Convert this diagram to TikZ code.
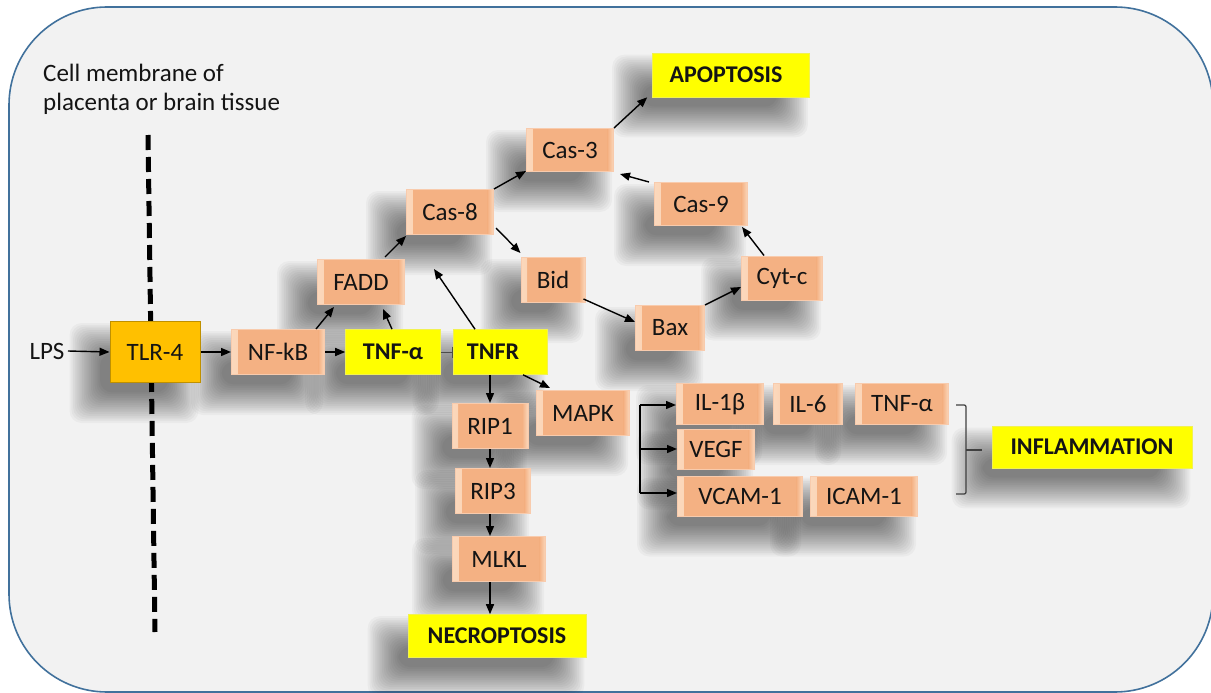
\documentclass[tikz,border=0pt]{standalone}
\usepackage{fontspec}
\setmainfont{Carlito}
\usetikzlibrary{arrows.meta}
\definecolor{salmon}{HTML}{F4B183}
\definecolor{salmonlt}{HTML}{FBD8BC}
\definecolor{salmonbd}{HTML}{F8CBAD}
\definecolor{ylw}{HTML}{FFFF00}
\definecolor{ylwbd}{HTML}{F2F250}
\definecolor{tlrc}{HTML}{FFC000}
\definecolor{tlrbd}{HTML}{BF9000}
\definecolor{bgfill}{HTML}{F2F2F2}
\definecolor{framec}{HTML}{41719C}
\definecolor{txt}{HTML}{141414}
\pgfdeclarelayer{bglayer}
\pgfdeclarelayer{shadowlayer}
\pgfsetlayers{bglayer,shadowlayer,main}
\newcommand\softshadow[1]{%
  \foreach \k in {0,...,17}{%
    \fill[black, opacity=0.03, rounded corners=12pt]
      ([shift={({-40pt+\k*1.8pt},{-40pt+\k*1.8pt})}]#1.south west) rectangle
      ([shift={({-2pt-\k*1.8pt},{-2pt-\k*1.8pt})}]#1.north east);}}
\tikzset{
  x=1pt,y=-1pt,
  lbl/.style={font=\fontsize{25}{29}\selectfont, text=txt},
  obox/.style={lbl, fill=salmon, draw=salmonbd, line width=1pt, inner sep=0pt,
    path picture={
      \shade[left color=salmonlt, right color=salmon] (path picture bounding box.south west) rectangle ([xshift=6pt]path picture bounding box.north west);
      \shade[left color=salmon, right color=salmonlt] ([xshift=-6pt]path picture bounding box.south east) rectangle (path picture bounding box.north east);}},
  ybox/.style={lbl, fill=ylw, draw=ylwbd, line width=0.6pt, inner sep=0pt, font=\fontsize{24}{28}\selectfont\bfseries},
  tlrbox/.style={lbl, fill=tlrc, draw=tlrbd, line width=1pt, inner sep=0pt},
  arr/.style={line width=1.4pt, -{Triangle[length=10pt,width=8pt]}},
  plain/.style={line width=1.4pt},
  inh/.style={line width=0.8pt, draw=black!70, -{Bar[width=11pt]}},
  bracec/.style={line width=1.2pt, draw=black!75},
  membrane/.style={line width=5pt, dash pattern=on 15pt off 7pt},
}
\begin{document}
\begin{tikzpicture}
\useasboundingbox (0,0) rectangle (1211,693);
\begin{pgfonlayer}{bglayer}
\filldraw[fill=bgfill, draw=framec, line width=1.6pt, rounded corners=98pt] (9,7) rectangle (1213,692);
\end{pgfonlayer}

% membrane
\node[lbl, anchor=north west, align=left, inner sep=0pt] (memtxt) at (43,64) {Cell membrane of\\placenta or brain tissue};
\draw[membrane] (148,135) -- (155,632);

% nodes
\node[lbl] (lps) at (47,351) {LPS};
\node[tlrbox, minimum width=90pt, minimum height=61pt] (tlr) at (155,352) {TLR-4};
\node[obox, minimum width=93pt, minimum height=45pt] (nfkb) at (278,352) {NF-kB};
\node[ybox, minimum width=95pt, minimum height=45pt] (tnfa) at (393,352) {TNF-α};
\node[ybox, minimum width=94pt, minimum height=45pt] (tnfr) at (500,352) {TNFR\hspace*{14pt}};
\node[obox, minimum width=87pt, minimum height=45pt] (fadd) at (361,282) {FADD};
\node[obox, minimum width=87pt, minimum height=45pt] (cas8) at (450,212) {Cas-8};
\node[obox, minimum width=87pt, minimum height=43pt] (cas3) at (570,150) {Cas-3};
\node[ybox, minimum width=157pt, minimum height=44pt] (apop) at (731,75) {APOPTOSIS\hspace*{10pt}};
\node[obox, minimum width=93pt, minimum height=43pt] (cas9) at (701,204) {Cas-9};
\node[obox, minimum width=64pt, minimum height=45pt] (bid) at (553,280) {Bid};
\node[obox, minimum width=69pt, minimum height=45pt] (bax) at (670,328) {Bax};
\node[obox, minimum width=81pt, minimum height=44pt] (cytc) at (782,278) {Cyt-c};
\node[obox, minimum width=76pt, minimum height=45pt] (rip1) at (490,426) {RIP1};
\node[obox, minimum width=93pt, minimum height=45pt] (mapk) at (583,413) {MAPK};
\node[obox, minimum width=75pt, minimum height=45pt] (rip3) at (493,491) {RIP3};
\node[obox, minimum width=93pt, minimum height=45pt] (mlkl) at (499,559) {MLKL};
\node[ybox, minimum width=178pt, minimum height=43pt] (necro) at (497,636) {NECROPTOSIS};
\node[obox, minimum width=87pt, minimum height=41pt] (il1b) at (720,404) {IL-1β};
\node[obox, minimum width=69pt, minimum height=41pt] (il6) at (808,404) {IL-6};
\node[obox, minimum width=93pt, minimum height=41pt] (tnfa2) at (902,404) {TNF-α};
\node[obox, minimum width=77pt, minimum height=40pt] (vegf) at (716,449) {VEGF};
\node[obox, minimum width=125pt, minimum height=40pt] (vcam) at (740,496) {VCAM-1};
\node[obox, minimum width=107pt, minimum height=40pt] (icam) at (864,496) {ICAM-1};
\node[ybox, minimum width=200pt, minimum height=42pt] (infl) at (1092,447) {INFLAMMATION};

% soft shadows beneath all boxes
\begin{pgfonlayer}{shadowlayer}
\foreach \n in {tlr,nfkb,tnfa,tnfr,fadd,cas8,cas3,apop,cas9,bid,bax,cytc,rip1,mapk,rip3,mlkl,necro,il1b,il6,tnfa2,vegf,vcam,icam,infl}{\softshadow{\n}}
\end{pgfonlayer}

% connectors
\draw[arr] (lps.east) -- (tlr.west);
\draw[arr] (tlr.east) -- (nfkb.west);
\draw[arr] (nfkb.east) -- (tnfa.west);
\draw[inh] (tnfa.east) -- (tnfr.west);
\draw[arr] ([xshift=-9pt]nfkb.north east) -- ([xshift=17pt,yshift=-2pt]fadd.south west);
\draw[arr] ([xshift=-1pt]tnfa.north) -- ([xshift=22pt,yshift=-4pt]fadd.south);
\draw[arr] ([xshift=24pt,yshift=2pt]fadd.north) -- ([yshift=-1pt]cas8.south west);
\coordinate (tnfrend) at (434,269);
\draw[arr] ([xshift=-25pt]tnfr.north) -- (tnfrend);
\draw[arr] (cas8.north east) -- ([yshift=1pt]cas3.south west);
\draw[arr] (cas3.north east) -- ([xshift=-5pt]apop.south west);
\draw[arr] ([xshift=-5pt]cas9.north west) -- ([xshift=6pt,yshift=-2pt]cas3.south east);
\draw[arr] ([xshift=2pt,yshift=7pt]cas8.south east) -- ([yshift=4pt]bid.north west);
\draw[arr] ([xshift=-2pt,yshift=4pt]bid.south east) -- ([yshift=6pt]bax.west);
\draw[arr] (bax.north east) -- ([yshift=-9pt]cytc.west);
\draw[arr] ([xshift=-18pt]cytc.north) -- ([xshift=-6pt,yshift=-1pt]cas9.south east);
\draw[arr] (rip1.north |- tnfr.south) -- (rip1.north);
\draw[arr] ([xshift=23pt]tnfr.south) -- ([xshift=14pt,yshift=2pt]mapk.north west);
\draw[arr] (rip1.south) -- (rip1.south |- rip3.north);
\draw[arr] (rip1.south |- rip3.south) -- (rip1.south |- mlkl.north);
\draw[arr] (rip1.south |- mlkl.south) -- (rip1.south |- necro.north);

% branch to cytokines
\coordinate (bt) at (640,405);
\coordinate (bm) at (640,449);
\coordinate (bb) at (640,493);
\draw[plain] (bt) -- (bb);
\draw[arr] (bt) -- (il1b.west |- bt);
\draw[arr] (bm) -- (vegf.west |- bm);
\draw[arr] (bb) -- (vcam.west |- bb);

% bracket grouping the cytokines
\draw[bracec] (956,405) -- (962,405) .. controls (966,405) .. (966,409) -- (966,490)
  .. controls (966,494) .. (962,494) -- (956,494);
\draw[bracec] (966,450) -- (982,450);
\end{tikzpicture}
\end{document}
